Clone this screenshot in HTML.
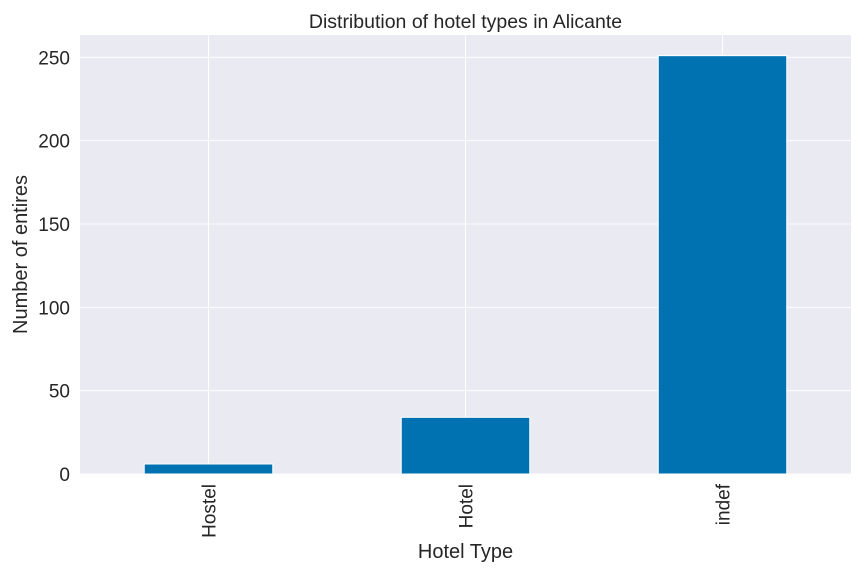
<!DOCTYPE html>
<html><head><meta charset="utf-8"><style>
body{margin:0;background:#fff;}
svg{display:block;font-family:"Liberation Sans",Arial,sans-serif;}
</style></head><body>
<svg id="chart" width="864" height="576">
<rect x="80" y="35" width="771" height="439" fill="#eaeaf2"/>
<g id="grid"></g><g id="bars"></g><g id="ticks"></g>
<text x="465.5" y="28" text-anchor="middle" font-size="19.5" fill="#262626">Distribution of hotel types in Alicante</text>
<text x="465.5" y="558" text-anchor="middle" font-size="20" fill="#262626">Hotel Type</text>
<text transform="translate(27,254.5) rotate(-90)" text-anchor="middle" font-size="20" fill="#262626">Number of entires</text>
</svg>
<script>
const categories = ["Hostel", "Hotel", "indef"];
const counts = [6, 34, 251];
const yTicks = [0, 50, 100, 150, 200, 250];
const X0 = 80, X1 = 851, Y0 = 474, Y1 = 35, YMAX = 263.4;
const NS = "http://www.w3.org/2000/svg";
const xs = i => X0 + (i + 0.5) * (X1 - X0) / categories.length;
const ys = v => Y0 - v / YMAX * (Y0 - Y1);
const bw = 0.5 * (X1 - X0) / categories.length;
function mk(tag, attrs, parent, txt) {
  const e = document.createElementNS(NS, tag);
  for (const k in attrs) e.setAttribute(k, attrs[k]);
  if (txt !== undefined) e.textContent = txt;
  document.getElementById(parent).appendChild(e);
  return e;
}
yTicks.forEach(t => {
  const l = mk("line", {x1: X0, x2: X1, y1: ys(t), y2: ys(t), stroke: "#fff", "stroke-width": 1}, "grid");
  
  
  const tx = mk("text", {x: 70, y: ys(t) + 7, "text-anchor": "end", "font-size": 19, fill: "#262626"}, "ticks", String(t));
  
  
});
categories.forEach((c, i) => {
  const l = mk("line", {x1: xs(i), x2: xs(i), y1: Y1, y2: Y0, stroke: "#fff", "stroke-width": 1}, "grid");
  
  
  const r = mk("rect", {x: xs(i) - bw / 2, y: ys(counts[i]), width: bw, height: Y0 - ys(counts[i]), fill: "#0072b2", stroke: "#fff", "stroke-width": 1}, "bars");
  
  
  const tx = mk("text", {transform: `translate(${xs(i) + 7},484) rotate(-90)`, "text-anchor": "end", "font-size": 19, fill: "#262626"}, "ticks", c);
  
  
});
</script>
</body></html>
